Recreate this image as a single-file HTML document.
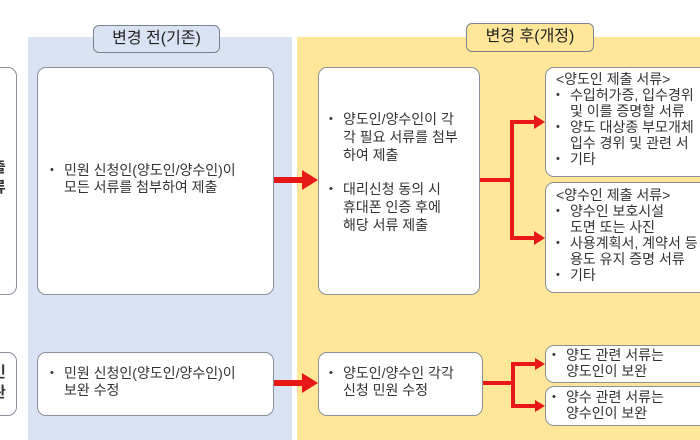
<!DOCTYPE html>
<html><head><meta charset="utf-8"><style>
body{margin:0;width:700px;height:440px;overflow:hidden;background:#fff;position:relative;font-family:"Liberation Sans","Noto Sans CJK KR",sans-serif;color:#333}
.a{position:absolute;box-sizing:border-box}
.box{position:absolute;box-sizing:border-box;background:#fff;border:1.5px solid #8a8f99;border-radius:9px;font-size:14px;line-height:17px;white-space:nowrap;overflow:hidden}
.hdr{position:absolute;box-sizing:border-box;border:1.5px solid #7a8290;border-radius:6px;font-size:16px;text-align:center;line-height:25px;color:#222}
ul{margin:0;padding:0 0 0 20px;list-style:none}
li{margin:0;position:relative}
li:before{content:"•";position:absolute;left:-14px;font-size:11px}
</style></head><body>
<div class="a" style="left:28px;top:37px;width:264px;height:403px;background:#dae3f3"></div>
<div class="a" style="left:297px;top:37px;width:403px;height:403px;background:#ffe699"></div>
<div class="hdr" style="left:93px;top:25px;width:127px;height:28px;background:#dae3f3">변경 전(기존)</div>
<div class="hdr" style="left:466px;top:23px;width:128px;height:29px;background:#ffe699">변경 후(개정)</div>

<div class="box" style="left:-10px;top:67px;width:27px;height:228px;font-weight:bold;font-size:15px"><div style="position:absolute;left:1px;top:90px;line-height:20px">출<br>류</div></div>
<div class="box" style="left:-10px;top:352px;width:27px;height:64px;font-weight:bold;font-size:15px"><div style="position:absolute;left:1px;top:10px;line-height:20px">민<br>완</div></div>

<div class="box" style="left:37px;top:67px;width:237px;height:228px"><ul style="position:absolute;top:94px;left:6px"><li>민원 신청인(양도인/양수인)이<br>모든 서류를 첨부하여 제출</li></ul></div>
<div class="box" style="left:318px;top:67px;width:162px;height:228px"><ul style="position:absolute;top:42px;left:4px;line-height:18px"><li>양도인/양수인이 각<br>각 필요 서류를 첨부<br>하여 제출</li><li style="margin-top:16px">대리신청 동의 시<br>휴대폰 인증 후에<br>해당 서류 제출</li></ul></div>
<div class="box" style="left:545px;top:67px;width:170px;height:110px;padding:3px 0 0 10px;line-height:16px">&lt;양도인 제출 서류&gt;<ul style="padding-left:14px"><li>수입허가증, 입수경위<br>및 이를 증명할 서류</li><li>양도 대상종 부모개체<br>입수 경위 및 관련 서</li><li>기타</li></ul></div>
<div class="box" style="left:545px;top:182px;width:170px;height:111px;padding:4px 0 0 10px;line-height:16px">&lt;양수인 제출 서류&gt;<ul style="padding-left:14px"><li>양수인 보호시설<br>도면 또는 사진</li><li>사용계획서, 계약서 등<br>용도 유지 증명 서류</li><li>기타</li></ul></div>

<div class="box" style="left:37px;top:352px;width:237px;height:64px"><ul style="position:absolute;top:12px;left:6px"><li>민원 신청인(양도인/양수인)이<br>보완 수정</li></ul></div>
<div class="box" style="left:318px;top:352px;width:165px;height:64px"><ul style="position:absolute;top:12px;left:4px"><li>양도인/양수인 각각<br>신청 민원 수정</li></ul></div>
<div class="box" style="left:545px;top:345px;width:170px;height:38px;padding:1px 0 0 0;line-height:16px"><ul style="padding-left:20px"><li>양도 관련 서류는<br>양도인이 보완</li></ul></div>
<div class="box" style="left:545px;top:386px;width:170px;height:40px;padding:2px 0 0 0;line-height:16px"><ul style="padding-left:20px"><li>양수 관련 서류는<br>양수인이 보완</li></ul></div>

<svg class="a" style="left:0;top:0" width="700" height="440">
<g fill="#e81818" stroke="none">
<rect x="274" y="177" width="30" height="6"/><polygon points="302,170 318,180 302,190"/>
<rect x="480" y="178" width="32" height="4"/><rect x="510" y="121" width="4" height="119"/>
<rect x="510" y="120" width="26" height="4"/><polygon points="534,115 545,122 534,129"/>
<rect x="510" y="236" width="26" height="4"/><polygon points="534,231 545,238 534,245"/>
<rect x="274" y="380" width="30" height="6"/><polygon points="302,373 318,383 302,393"/>
<rect x="483" y="381" width="30" height="4"/><rect x="511" y="363" width="4" height="44"/>
<rect x="511" y="362" width="26" height="4"/><polygon points="535,358 545,364 535,370"/>
<rect x="511" y="404" width="26" height="4"/><polygon points="535,400 545,406 535,412"/>
</g></svg>
</body></html>
